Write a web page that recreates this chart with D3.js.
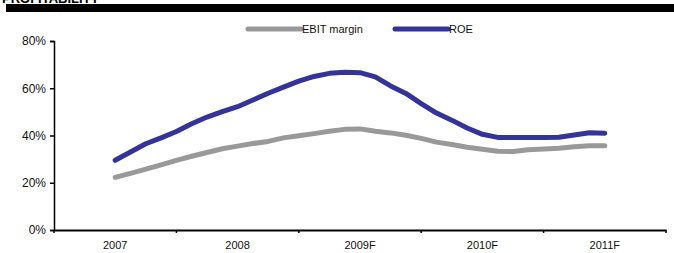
<!DOCTYPE html>
<html>
<head>
<meta charset="utf-8">
<script src="https://cdn.jsdelivr.net/npm/d3@7"></script>
<style>
  body { margin: 0; background: #fff; }
  svg { font-family: "Liberation Sans", Arial, sans-serif; }
</style>
</head>
<body>
<div id="chart"></div>
<script>
// Chart size
const width = 674;
const height = 253;
const margin = { top: 41, right: 8, bottom: 23, left: 54 };

// Category labels on the x axis
const years = ["2007", "2008", "2009F", "2010F", "2011F"];
// Position of each reading, in years from the middle of 2007
const steps = d3.range(0, 4.0001, 0.125);
const ebit = [22.3, 24, 25.8, 27.6, 29.5, 31.2, 32.8, 34.4, 35.5, 36.6, 37.5, 39, 39.9, 40.8, 41.8, 42.6, 42.8,
  41.8, 41.1, 40.1, 38.8, 37.2, 36.2, 35, 34.2, 33.3, 33.2, 34, 34.3, 34.6, 35.2, 35.7, 35.7];
const roe = [29.5, 33, 36.5, 39, 41.7, 45, 47.8, 50.1, 52.2, 55, 57.9, 60.5, 63, 65, 66.3, 66.8, 66.6,
  64.8, 61, 57.8, 53.5, 49.5, 46.5, 43.2, 40.5, 39.2, 39.2, 39.2, 39.2, 39.3, 40.2, 41.2, 41];
const yTicks = [0, 20, 40, 60, 80];

const series = [
  { name: "EBIT margin", values: ebit, color: "#999999" },
  { name: "ROE", values: roe, color: "#333399" }
];

const svg = d3.select("#chart")
  .append("svg")
  .attr("width", width)
  .attr("height", height);

// Title and black bar
svg.append("text")
  .attr("x", 2)
  .attr("y", 3)
  .attr("font-size", 13)
  .attr("font-weight", "bold")
  .text("PROFITABILITY");

svg.append("rect")
  .attr("x", 6)
  .attr("y", 4)
  .attr("width", width - 6)
  .attr("height", 8)
  .attr("fill", "#000");

// Scales
const xBand = d3.scaleBand()
  .domain(years)
  .range([margin.left, width - margin.right]);

const xScale = d3.scaleLinear()
  .domain([0, 4])
  .range([xBand("2007") + xBand.bandwidth() / 2, xBand("2011F") + xBand.bandwidth() / 2]);

const yScale = d3.scaleLinear()
  .domain([0, 80])
  .range([height - margin.bottom, margin.top]);

// Axes
const xAxis = svg.append("g")
  .attr("transform", `translate(0, ${height - margin.bottom})`)
  .call(d3.axisBottom(xBand).tickSize(0).tickPadding(11));
xAxis.select(".domain").attr("stroke", "#000").attr("stroke-width", 2);
xAxis.selectAll("text").attr("font-size", 11).attr("fill", "#111").attr("font-family", "Liberation Sans, Arial, sans-serif");

// band edge ticks
xAxis.selectAll(".edge")
  .data(d3.range(years.length + 1))
  .enter()
  .append("line")
  .attr("class", "edge")
  .attr("x1", i => margin.left + i * xBand.step())
  .attr("x2", i => margin.left + i * xBand.step())
  .attr("y1", 0)
  .attr("y2", 3)
  .attr("stroke", "#000")
  .attr("stroke-width", 1.5);

const yAxis = svg.append("g")
  .attr("transform", `translate(${margin.left}, 0)`)
  .call(d3.axisLeft(yScale).tickValues(yTicks).tickFormat(d => d + "%").tickSize(4).tickPadding(4));
yAxis.select(".domain").attr("stroke", "#000").attr("stroke-width", 1.5);
yAxis.selectAll(".tick line").attr("stroke", "#000").attr("stroke-width", 1.5);
yAxis.selectAll("text").attr("font-size", 12).attr("fill", "#111").attr("font-family", "Liberation Sans, Arial, sans-serif");

// Lines
const line = d3.line()
  .x((d, i) => xScale(steps[i]))
  .y(d => yScale(d));

svg.selectAll(".series")
  .data(series)
  .enter()
  .append("path")
  .attr("class", "series")
  .attr("d", d => line(d.values))
  .attr("fill", "none")
  .attr("stroke", d => d.color)
  .attr("stroke-width", 5)
  .attr("stroke-linecap", "round")
  .attr("stroke-linejoin", "round");

// Legend
const legend = svg.append("g");
const legendX = [248, 395];
series.forEach((s, i) => {
  legend.append("line")
    .attr("x1", legendX[i])
    .attr("x2", legendX[i] + 53)
    .attr("y1", 29)
    .attr("y2", 29)
    .attr("stroke", s.color)
    .attr("stroke-width", 5)
    .attr("stroke-linecap", "round");
  legend.append("text")
    .attr("x", legendX[i] + 54)
    .attr("y", 33)
    .attr("font-size", 11)
    .attr("fill", "#111")
    .text(s.name);
});
</script>
</body>
</html>
